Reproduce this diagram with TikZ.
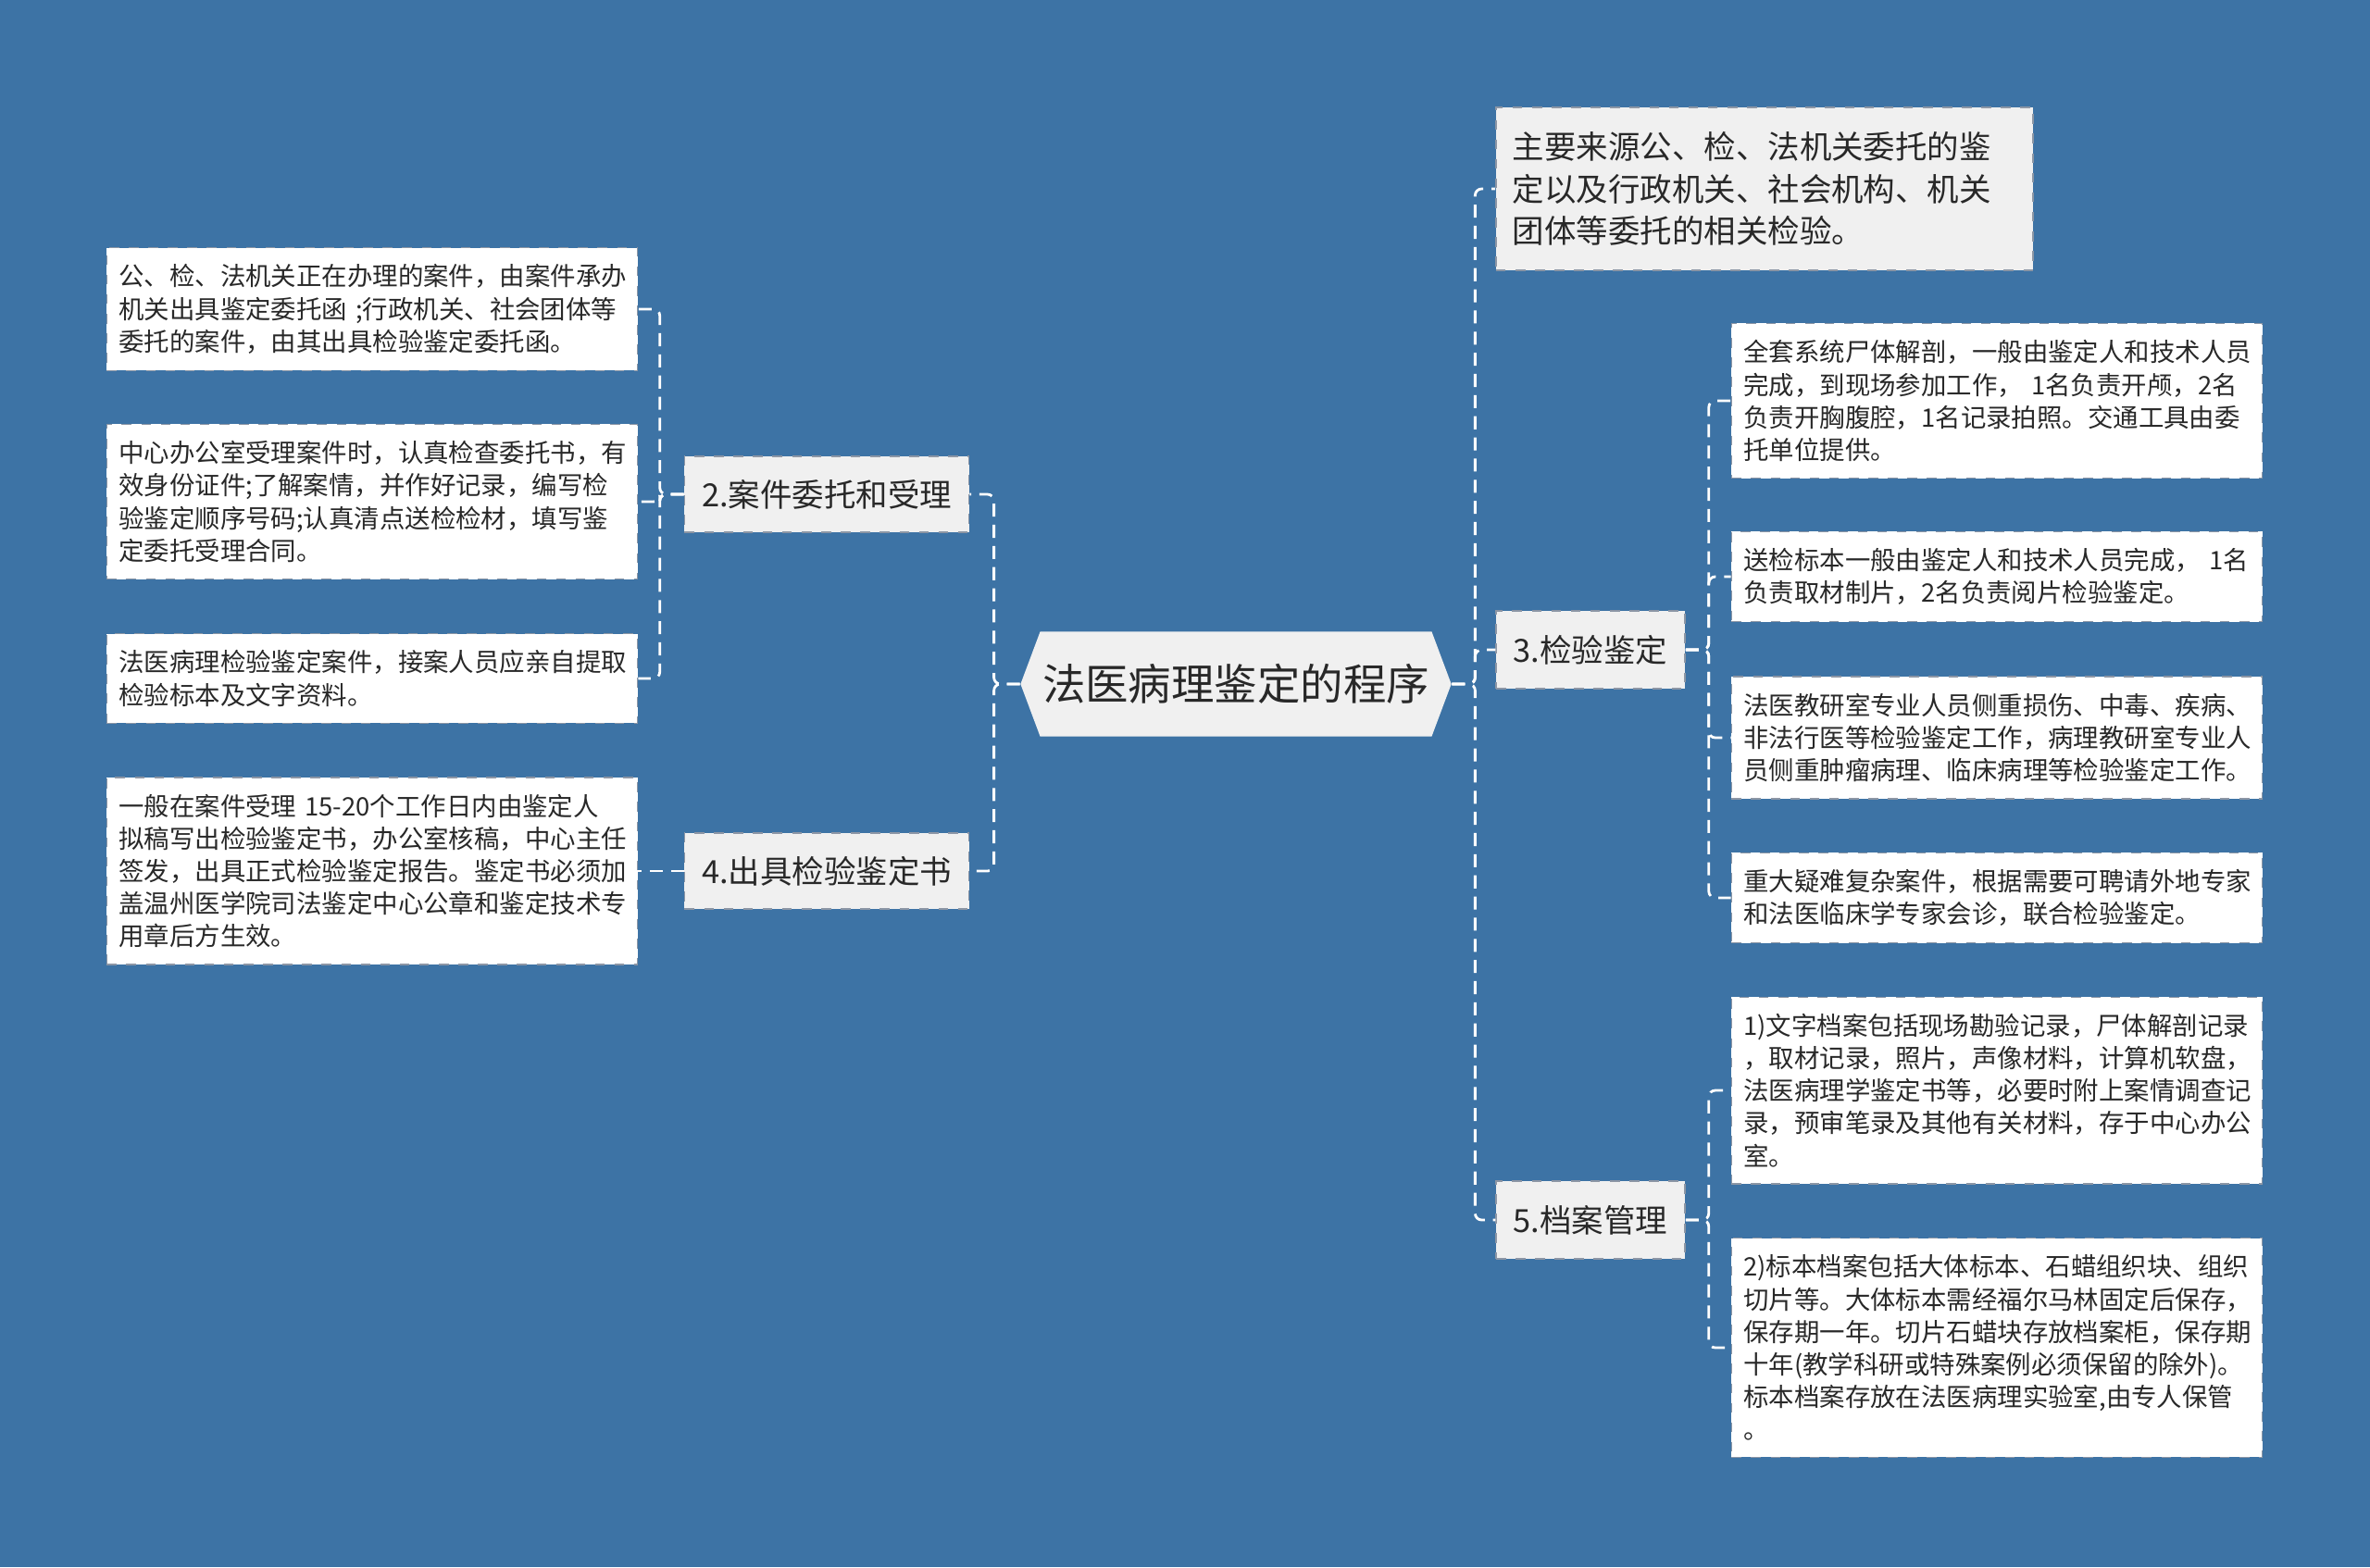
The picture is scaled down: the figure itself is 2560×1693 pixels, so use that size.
\documentclass[tikz,border=0pt]{standalone}
\usepackage{fontspec}
\setmainfont{Noto Sans CJK SC}
\usetikzlibrary{shapes.symbols}
\definecolor{bgblue}{RGB}{61,115,165}
\definecolor{boxgray}{RGB}{240,240,240}
\definecolor{textgray}{RGB}{40,40,40}
\definecolor{edgegray}{RGB}{140,150,165}

\begin{document}
\begin{tikzpicture}[x=0.01cm, y=-0.01cm,
  link/.style={draw=white, line width=0.8pt, dash pattern=on 4pt off 2.5pt, rounded corners=2pt},
  leaf/.style={rectangle, fill=white, draw=edgegray, dashed, line width=0.4pt, text=textgray,
    font=\fontsize{7.8}{10}\selectfont, text width=5.47cm, align=left, inner xsep=0.13cm, inner ysep=0.18cm},
  branch/.style={rectangle, fill=boxgray, draw=edgegray, dashed, line width=0.4pt, text=textgray,
    font=\fontsize{9.8}{13}\selectfont, inner sep=0pt},
  rootbox/.style={signal, signal to=east and west, signal pointer angle=139, fill=boxgray, text=textgray,
    font=\fontsize{13.2}{16}\selectfont, inner sep=0pt, minimum width=4.65cm, minimum height=1.13cm}]
\fill[bgblue] (0,0) rectangle (2560,1693);
\useasboundingbox (0,0) rectangle (2560,1693);

\node[rootbox] (root) at (1335,739) {法医病理鉴定的程序};

% left side
\node[branch, minimum width=3.07cm, minimum height=0.82cm] (b2) at (893,534) {2.案件委托和受理};
\node[branch, minimum width=3.07cm, minimum height=0.82cm] (b4) at (893,941) {4.出具检验鉴定书};

\node[leaf] (l1) at (402,334) {公、检、法机关正在办理的案件，由案件承办\\机关出具鉴定委托函 ;行政机关、社会团体等\\委托的案件，由其出具检验鉴定委托函。};
\node[leaf] (l2) at (402,542) {中心办公室受理案件时，认真检查委托书，有\\效身份证件;了解案情，并作好记录，编写检\\验鉴定顺序号码;认真清点送检检材，填写鉴\\定委托受理合同。};
\node[leaf] (l3) at (402,733) {法医病理检验鉴定案件，接案人员应亲自提取\\检验标本及文字资料。};
\node[leaf] (l4) at (402,941) {一般在案件受理~15-20个工作日内由鉴定人\\拟稿写出检验鉴定书，办公室核稿，中心主任\\签发，出具正式检验鉴定报告。鉴定书必须加\\盖温州医学院司法鉴定中心公章和鉴定技术专\\用章后方生效。};

% right side
\node[branch, text width=5.44cm, align=left, inner xsep=0.18cm, minimum height=1.76cm] (r0) at (1906,204) {主要来源公、检、法机关委托的鉴\\定以及行政机关、社会机构、机关\\团体等委托的相关检验。};
\node[branch, minimum width=2.04cm, minimum height=0.84cm] (b3) at (1718,702) {3.检验鉴定};
\node[branch, minimum width=2.04cm, minimum height=0.84cm] (b5) at (1718,1318) {5.档案管理};

\node[leaf] (r1) at (2157,433) {全套系统尸体解剖，一般由鉴定人和技术人员\\完成，到现场参加工作，~1名负责开颅，2名\\负责开胸腹腔，1名记录拍照。交通工具由委\\托单位提供。};
\node[leaf] (r2) at (2157,623) {送检标本一般由鉴定人和技术人员完成，~1名\\负责取材制片，2名负责阅片检验鉴定。};
\node[leaf] (r3) at (2157,797) {法医教研室专业人员侧重损伤、中毒、疾病、\\非法行医等检验鉴定工作，病理教研室专业人\\员侧重肿瘤病理、临床病理等检验鉴定工作。};
\node[leaf] (r4) at (2157,970) {重大疑难复杂案件，根据需要可聘请外地专家\\和法医临床学专家会诊，联合检验鉴定。};
\node[leaf] (r5) at (2157,1178) {1)文字档案包括现场勘验记录，尸体解剖记录\\，取材记录，照片，声像材料，计算机软盘，\\法医病理学鉴定书等，必要时附上案情调查记\\录，预审笔录及其他有关材料，存于中心办公\\室。};
\node[leaf] (r6) at (2157,1456) {2)标本档案包括大体标本、石蜡组织块、组织\\切片等。大体标本需经福尔马林固定后保存，\\保存期一年。切片石蜡块存放档案柜，保存期\\十年(教学科研或特殊案例必须保留的除外)。\\标本档案存放在法医病理实验室,由专人保管\\。};

% connectors
\draw[link] (root.west) -- ++(-28,0) |- (b2.east);
\draw[link] (root.west) -- ++(-28,0) |- (b4.east);
\draw[link] (b2.west) -- ++(-26,0) |- (l1.east);
\draw[link] (b2.west) -- ++(-26,0) |- (l2.east);
\draw[link] (b2.west) -- ++(-26,0) |- (l3.east);
\draw[link] (b4.west) -- (l4.east);

\draw[link] (root.east) -- ++(25,0) |- (r0.west);
\draw[link] (root.east) -- ++(25,0) |- (b3.west);
\draw[link] (root.east) -- ++(25,0) |- (b5.west);
\draw[link] (b3.east) -- ++(25,0) |- (r1.west);
\draw[link] (b3.east) -- ++(25,0) |- (r2.west);
\draw[link] (b3.east) -- ++(25,0) |- (r3.west);
\draw[link] (b3.east) -- ++(25,0) |- (r4.west);
\draw[link] (b5.east) -- ++(25,0) |- (r5.west);
\draw[link] (b5.east) -- ++(25,0) |- (r6.west);
\end{tikzpicture}
\end{document}
